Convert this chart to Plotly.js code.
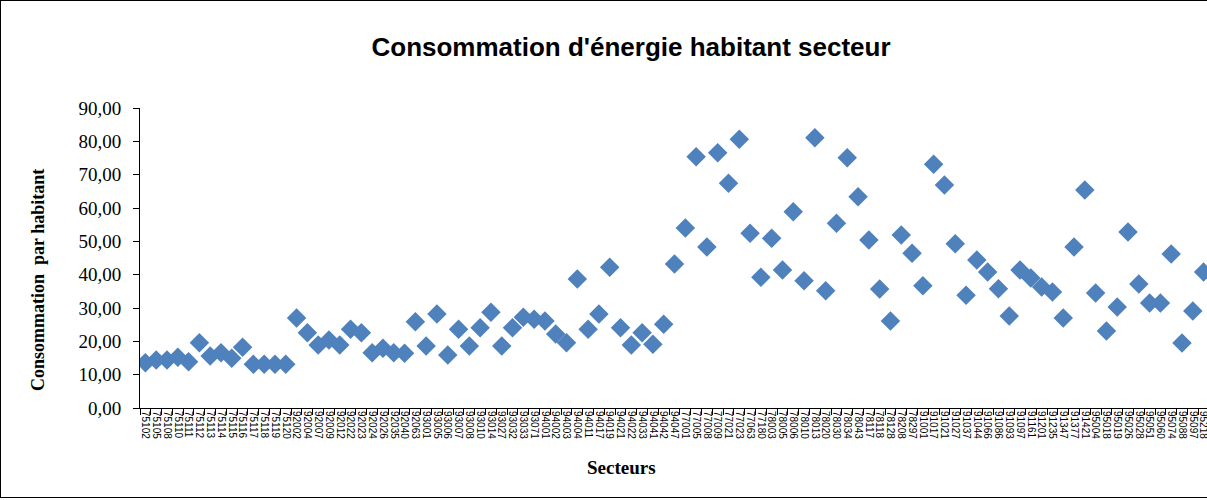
<!DOCTYPE html>
<html>
<head>
<meta charset="utf-8">
<script src="https://cdn.plot.ly/plotly-3.0.1.min.js"></script>
<style>
html,body{margin:0;padding:0;background:#fff;overflow:hidden;}
#wrap{position:relative;width:1262px;height:500px;}
#chart{position:absolute;left:0;top:0;width:1262px;height:500px;}
#frame{position:absolute;left:0;top:0;width:1262px;height:498px;box-sizing:border-box;border:1px solid #000;pointer-events:none;}
</style>
</head>
<body>
<div id="wrap"><div id="chart"></div><div id="frame"></div></div>
<script>
const secteurs = [
 "75102","75105","75108","75110","75111","75112","75113","75114","75115","75116","75117","75118","75119","75120",
 "92002","92004","92007","92009","92012","92022","92023","92024","92026","92035","92040","92063",
 "93001","93005","93006","93007","93008","93010","93014","93027","93032","93033","93071",
 "94001","94002","94003","94004","94011","94017","94019","94021","94022","94033","94041","94042","94047",
 "77001","77005","77008","77009","77021","77023","77063","77180",
 "78003","78005","78006","78010","78013","78020","78030","78034","78043","78117","78118","78128","78208","78297",
 "91001","91017","91021","91027","91037","91044","91066","91086","91093","91097","91161","91201","91235","91347","91377","91421",
 "95004","95018","95019","95026","95028","95051","95060","95074","95088","95097","95218"
];
const consommation = [
 13.6,14.4,14.4,15.2,13.9,19.6,15.6,16.6,14.9,18.2,13.1,13.1,13.1,13.1,
 27.0,22.6,18.9,20.4,18.9,23.6,22.6,16.6,17.9,16.6,16.4,25.9,
 18.6,28.2,15.9,23.6,18.6,24.1,28.7,18.6,24.1,27.2,26.6,
 26.1,22.2,19.6,38.7,23.6,28.2,42.2,24.1,18.9,22.6,19.1,25.1,43.2,
 54.0,75.4,48.3,76.6,67.4,80.6,52.4,39.2,
 50.9,41.4,58.9,38.2,81.1,35.2,55.4,75.1,63.4,50.4,35.7,26.1,51.9,46.4,
 36.7,73.1,66.9,49.3,33.8,44.4,40.8,35.8,27.6,41.4,39.0,36.3,34.8,27.0,48.3,65.4,
 34.5,23.1,30.3,52.8,37.2,31.5,31.5,46.2,19.5,29.1,40.8
];
const yTicks = [0,10,20,30,40,50,60,70,80,90];

const serif = "Liberation Serif, Times New Roman, serif";
const sans = "Liberation Sans, Arial, sans-serif";

const trace = {
  type: "scatter",
  mode: "markers",
  x: secteurs,
  y: consommation,
  marker: {symbol: "diamond", size: 15, color: "#4F81BD", line: {width: 0}},
  hoverinfo: "x+y"
};

const layout = {
  width: 1262, height: 500,
  margin: {l: 140, r: 53, t: 108, b: 92},
  paper_bgcolor: "#fff", plot_bgcolor: "#fff",
  separators: ", ",
  showlegend: false,
  title: {
    text: "Consommation d'énergie habitant secteur",
    font: {family: sans, size: 26, color: "#000", weight: "bold"},
    xref: "container", x: 0.5, xanchor: "center",
    yref: "container", y: 0.906, yanchor: "middle"
  },
  xaxis: {
    type: "category",
    range: [-0.5, secteurs.length - 0.5],
    tickmode: "linear", tick0: 0, dtick: 1,
    tickson: "boundaries",
    ticks: "outside", ticklen: 6, tickcolor: "#000", tickwidth: 1,
    tickangle: 90,
    tickfont: {family: sans, size: 10, color: "#000"},
    showline: true, linecolor: "#000", linewidth: 1,
    showgrid: false, zeroline: false
  },
  yaxis: {
    range: [0, 90],
    tickvals: yTicks,
    tickformat: ".2f",
    ticks: "outside", ticklen: 6, tickcolor: "#000", tickwidth: 1,
    ticklabelstandoff: 8,
    tickfont: {family: serif, size: 19, color: "#000"},
    showline: true, linecolor: "#000", linewidth: 1,
    showgrid: false, zeroline: false
  },
  annotations: [
    {
      text: "Consommation  par habitant",
      xref: "paper", yref: "paper",
      x: (38 - 140) / 1069, y: (408 - 280) / 300,
      xanchor: "center", yanchor: "middle",
      textangle: -90, showarrow: false,
      font: {family: serif, size: 18, color: "#000", weight: "bold"}
    },
    {
      text: "Secteurs",
      xref: "paper", yref: "paper",
      x: (621 - 140) / 1069, y: (408 - 467) / 300,
      xanchor: "center", yanchor: "middle",
      showarrow: false,
      font: {family: serif, size: 19, color: "#000", weight: "bold"}
    }
  ]
};

Plotly.newPlot("chart", [trace], layout, {displayModeBar: false, staticPlot: true});
</script>
</body>
</html>
